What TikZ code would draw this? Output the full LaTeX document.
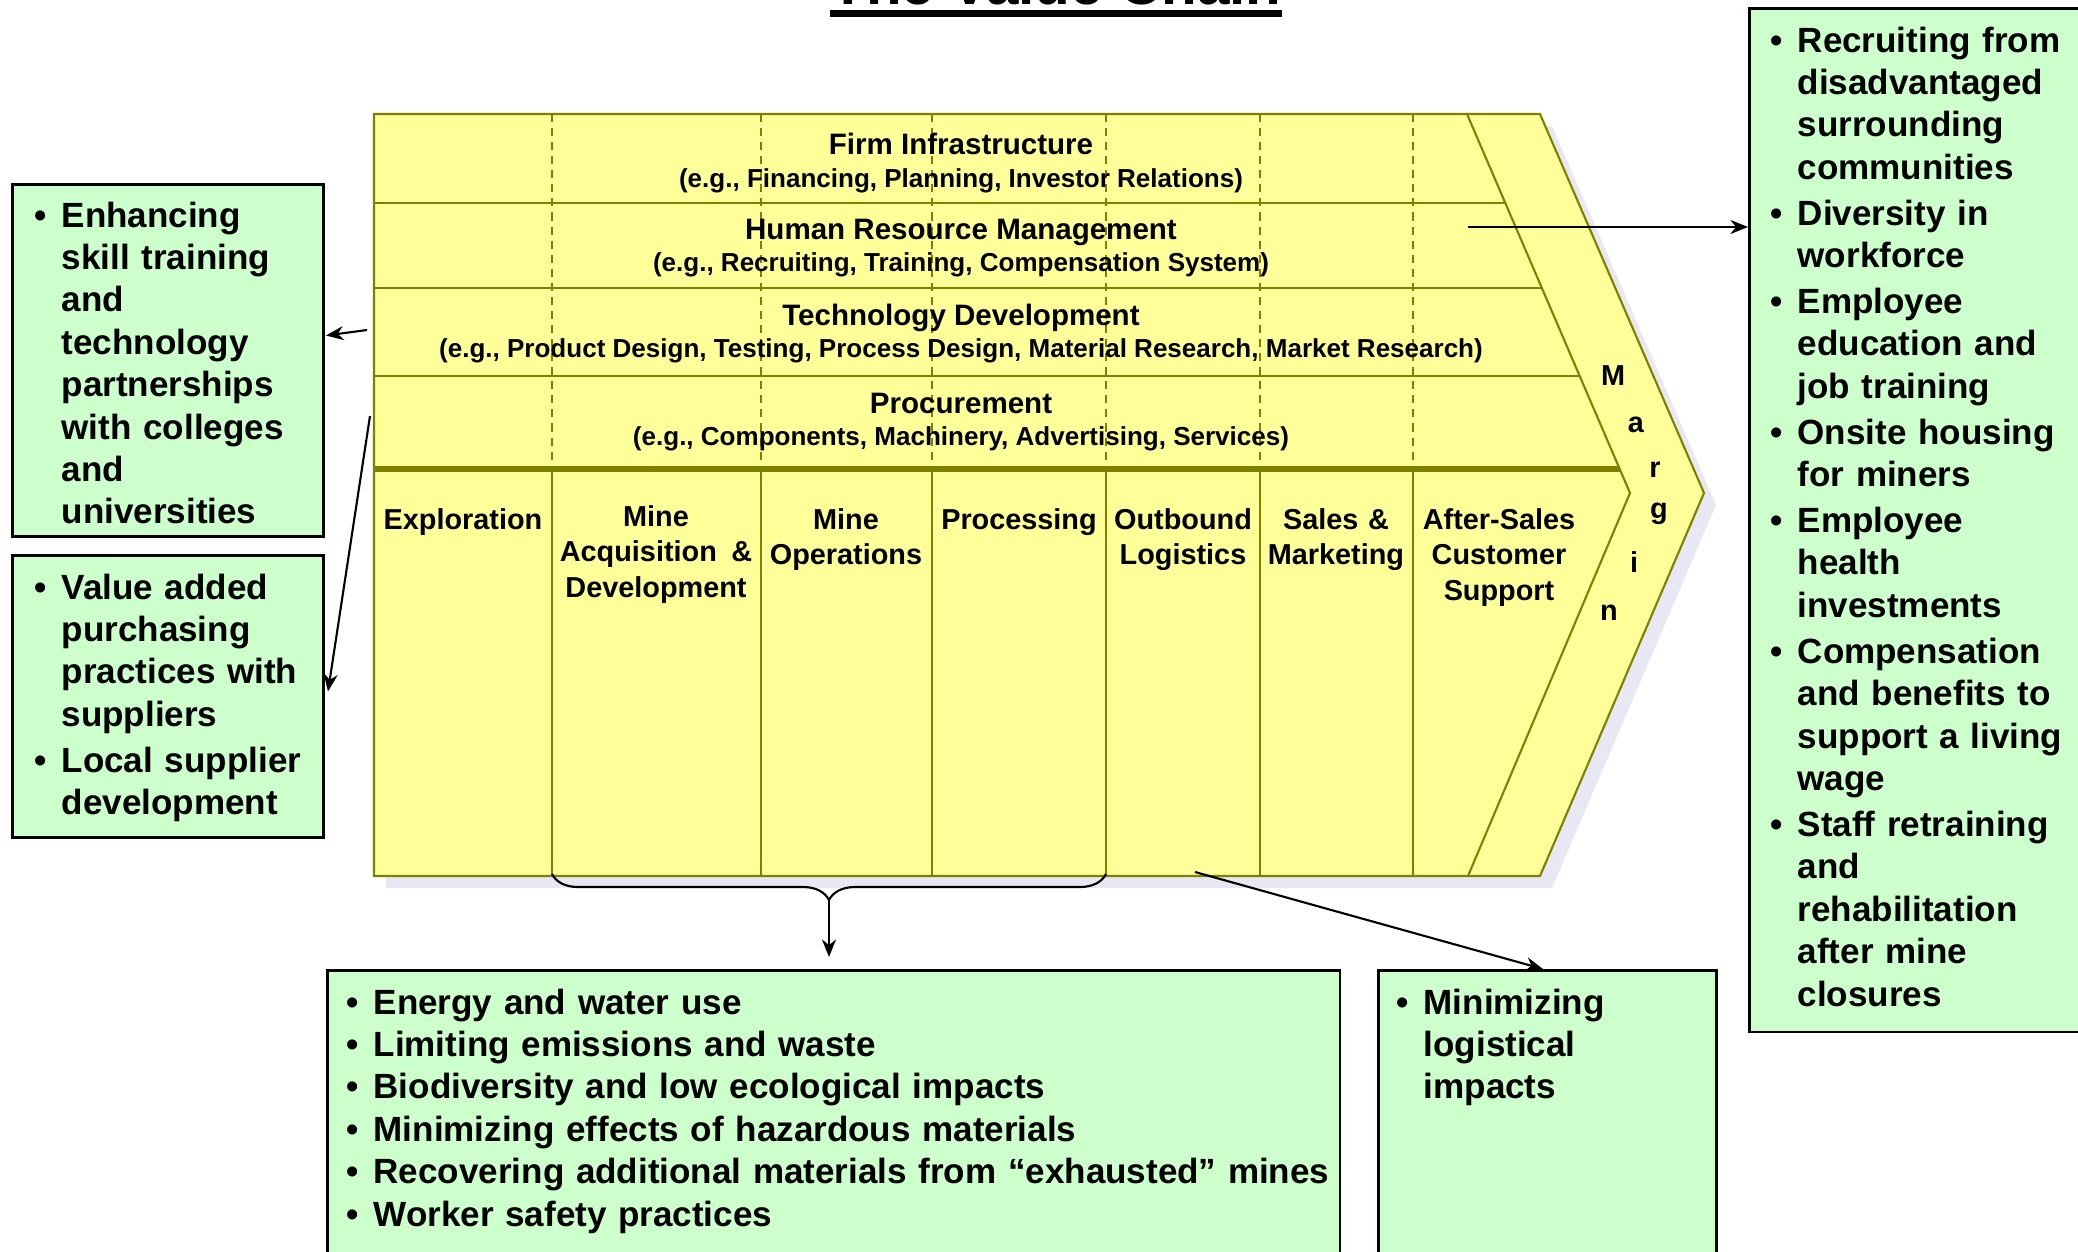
\documentclass[tikz,border=0pt]{standalone}
\usepackage{fontspec}
\setmainfont{Liberation Sans}
\usetikzlibrary{arrows.meta,
  calc,
  decorations.pathreplacing,
  positioning
}
\definecolor{chainyellow}{RGB}{255,255,153}
\definecolor{chainolive}{RGB}{128,128,0}
\definecolor{boxgreen}{RGB}{204,255,204}
\definecolor{chainshade}{RGB}{232,232,244}

\newlength{\hangw}
\setlength{\hangw}{0.27cm}
\newcommand{\bitem}[1]{\hangindent=\hangw\hangafter=1\noindent
  \makebox[\hangw][l]{\textbullet}#1\par}
\newcommand{\sidefont}{\fontsize{9.96pt}{12.06pt}\selectfont\bfseries}
\newcommand{\headfont}{\fontsize{8.4pt}{10pt}\selectfont\bfseries}
\newcommand{\subfont}{\fontsize{7.4pt}{9pt}\selectfont\bfseries}
\newcommand{\actfont}{\fontsize{8.2pt}{10.2pt}\selectfont\bfseries}

\tikzstyle{greenbox} = [draw=black, line width=0.8pt, fill=boxgreen,
  inner sep=0pt, anchor=north west]
\tikzstyle{listtext} = [anchor=base west, inner sep=0pt, align=left,
  font=\sidefont, execute at begin node={\setlength{\parskip}{1pt}}]
\tikzstyle{rowhead} = [anchor=base, inner sep=0pt, font=\headfont]
\tikzstyle{rowsub} = [anchor=base, inner sep=0pt, font=\subfont]
\tikzstyle{acttext} = [anchor=base, inner sep=0pt, text width=2cm,
  align=center, font=\actfont]
\tikzstyle{chainline} = [draw=chainolive, line width=0.6pt]
\tikzstyle{link} = [->, >={Stealth[length=5pt,width=4pt]}, line width=0.6pt]

\begin{document}
\begin{tikzpicture}[x=0.01cm, y=-0.01cm]
  \useasboundingbox (0,0) rectangle (2078,1251);

  % heading, mostly above the page
  \path (1056,4) node[anchor=base, inner sep=0pt,
    font=\fontsize{16.6pt}{18pt}\selectfont\bfseries] (title) {The Value Chain};
  \draw[line width=2pt] ($(title.base west)+(0,9.5)$) -- ($(title.base east)+(0,9.5)$);

  % chain body with its shadow
  \fill[chainshade, shift={(12,12)}]
  (374,114) -- (1540,114) -- (1704,493) -- (1540,876) -- (374,876) -- cycle;
  \filldraw[chainline, fill=chainyellow]
  (374,114) -- (1540,114) -- (1704,493) -- (1540,876) -- (374,876) -- cycle;
  \draw[chainline] (1467,114) -- (1630,493) -- (1468,876);
  \foreach \y in {203,288,376} {
    \draw[chainline] (374,\y) -- ({1467 + (\y - 114) * 0.4301},\y);
  }
  \draw[chainline, line width=1.5pt] (374,469) -- (1620,469);
  \foreach \x in {552,761,932,1106,1260,1413} {
    \draw[chainline, line width=0.45pt, dash pattern=on 2.3pt off 1.7pt] (\x,114) -- (\x,469);
    \draw[chainline] (\x,469) -- (\x,876);
  }

  % support activities
  \path (961,154) node[rowhead] (firmhead) {Firm Infrastructure};
  \path (961,187) node[rowsub] (firmsub) {(e.g., Financing, Planning, Investor Relations)};
  \path (961,239) node[rowhead] (hrmhead) {Human Resource Management};
  \path (961,271) node[rowsub] (hrmsub) {(e.g., Recruiting, Training, Compensation System)};
  \path (961,325) node[rowhead] (techhead) {Technology Development};
  \path (961,357) node[rowsub] (techsub) {(e.g., Product Design, Testing, Process Design, Material Research, Market Research)};
  \path (961,413) node[rowhead] (prochead) {Procurement};
  \path (961,445) node[rowsub] (procsub) {(e.g., Components, Machinery, Advertising, Services)};

  % primary activities
  \path (463,529) node[acttext] (explore) {Exploration};
  \path (656,526) node[acttext] (acquire) {Mine\\Acquisition \,\&\\Development};
  \path (846,529) node[acttext] (operate) {Mine\\Operations};
  \path (1019,529) node[acttext] (process) {Processing};
  \path (1183,529) node[acttext] (outlog) {Outbound\\Logistics};
  \path (1336,529) node[acttext] (sales) {Sales \&\\Marketing};
  \path (1499,529) node[acttext] (service) {After-Sales\\Customer\\Support};

  \foreach \ch/\mx/\my [count=\k] in {M/1613/376, a/1636/425, r/1655/470,
    g/1659/514, i/1634/562, n/1609/613} {
    \path (\mx,\my) node[inner sep=0pt, font=\actfont] (margin\k) {\ch};
  }

  % sustainability notes
  \node[greenbox, minimum width=3.11cm, minimum height=3.52cm] (skillbox) at (11,183) {};
  \path (34,227) node[listtext, text width=2.8cm] (skilltext) {%
    \bitem{Enhancing\newline skill training\newline and\newline technology\newline
    partnerships\newline with colleges\newline and\newline universities}};

  \node[greenbox, minimum width=3.11cm, minimum height=2.82cm] (supbox) at (11,554) {};
  \path (34,599) node[listtext, text width=2.8cm] (suptext) {%
    \bitem{Value added\newline purchasing\newline practices with\newline suppliers}
    \bitem{Local supplier\newline development}};

  \node[greenbox, minimum width=3.5cm, minimum height=10.23cm] (hrbox) at (1748,7) {};
  \path (1770,52) node[listtext, text width=3cm] (hrtext) {%
    \bitem{Recruiting from\newline disadvantaged\newline surrounding\newline communities}
    \bitem{Diversity in\newline workforce}
    \bitem{Employee\newline education and\newline job training}
    \bitem{Onsite housing\newline for miners}
    \bitem{Employee\newline health\newline investments}
    \bitem{Compensation\newline and benefits to\newline support a living\newline wage}
    \bitem{Staff retraining\newline and\newline rehabilitation\newline after mine\newline closures}};

  \node[greenbox, minimum width=10.12cm, minimum height=3cm] (envbox) at (326,969) {};
  \path (346,1014) node[listtext, text width=10.5cm,
    execute at begin node={\setlength{\parskip}{0pt}}] (envtext) {%
    \bitem{Energy and water use}
    \bitem{Limiting emissions and waste}
    \bitem{Biodiversity and low ecological impacts}
    \bitem{Minimizing effects of hazardous materials}
    \bitem{Recovering additional materials from “exhausted” mines}
    \bitem{Worker safety practices}};

  \node[greenbox, minimum width=3.38cm, minimum height=3cm] (logbox) at (1377,969) {};
  \path (1396,1014) node[listtext, text width=3cm] (logtext) {%
    \bitem{Minimizing\newline logistical\newline impacts}};

  % links from the chain to the notes
  \coordinate (hrmpt) at (1468,227);
  \draw[link] (hrmpt) -- (hrmpt -| hrbox.west);
  \coordinate (techpt) at (367,330);
  \draw[link] (techpt) -- ($(skillbox.east)+(1,-25)$);
  \coordinate (procpt) at (370,416);
  \draw[link] (procpt) -- ($(supbox.east)+(3,-5)$);

  \draw[line width=0.6pt, decorate, decoration={brace, amplitude=0.26cm}]
  (1106,874) -- (552,874);
  \coordinate (bracetip) at (829,900);
  \draw[link, shorten >=0.12cm] (bracetip) -- (bracetip |- envbox.north);
  \coordinate (logpt) at (1195,872);
  \draw[link] (logpt) -- ($(logbox.north west)+(166,0)$);
\end{tikzpicture}
\end{document}
